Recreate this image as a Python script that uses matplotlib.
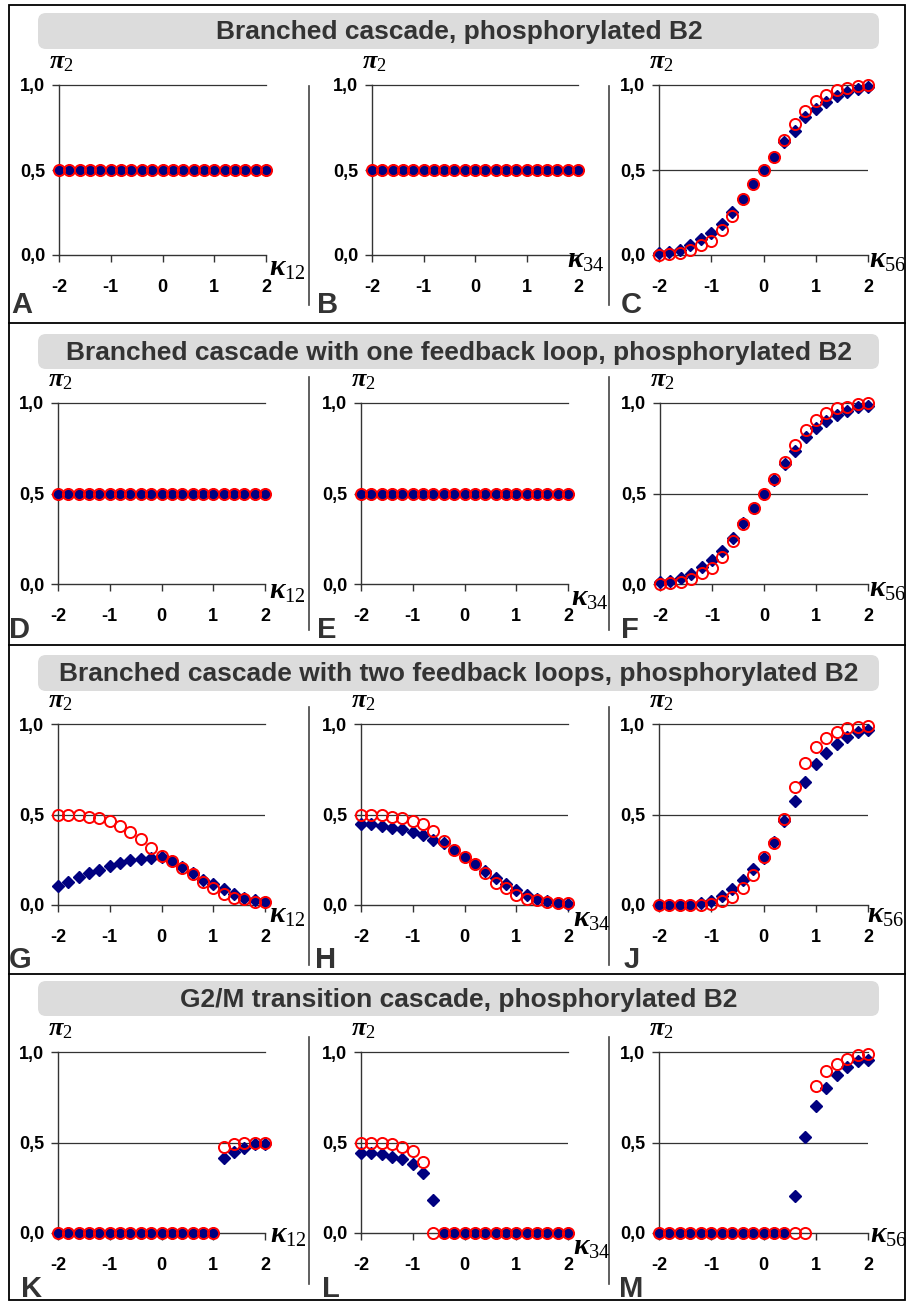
import matplotlib.pyplot as plt
from matplotlib.patches import FancyBboxPatch, Rectangle
from matplotlib.lines import Line2D
from matplotlib.transforms import IdentityTransform

plt.rcParams['font.family'] = ['Liberation Sans', 'DejaVu Sans']
plt.rcParams['mathtext.fontset'] = 'custom'
plt.rcParams['mathtext.it'] = 'Liberation Serif:italic:bold'
plt.rcParams['mathtext.rm'] = 'Liberation Serif'
plt.rcParams['mathtext.bf'] = 'Liberation Serif:bold'

# data
kappa = [-2.0, -1.8, -1.6, -1.4, -1.2, -1.0, -0.8, -0.6, -0.4, -0.2, 0.0,
         0.2, 0.4, 0.6, 0.8, 1.0, 1.2, 1.4, 1.6, 1.8, 2.0]

titles = ['Branched cascade, phosphorylated B2',
          'Branched cascade with one feedback loop, phosphorylated B2',
          'Branched cascade with two feedback loops, phosphorylated B2',
          'G2/M transition cascade, phosphorylated B2']
letters = [['A', 'B', 'C'], ['D', 'E', 'F'], ['G', 'H', 'J'], ['K', 'L', 'M']]
xlabels = ['12', '34', '56']
yticklabels = ['0,0', '0,5', '1,0']
xticklabels = ['-2', '-1', '0', '1', '2']

flat_dia = [0.5, 0.5, 0.5, 0.5, 0.5, 0.5, 0.5, 0.5, 0.5, 0.5, 0.5,
            0.5, 0.5, 0.5, 0.5, 0.5, 0.5, 0.5, 0.5, 0.5, 0.5]
flat_circ = [0.5, 0.5, 0.5, 0.5, 0.5, 0.5, 0.5, 0.5, 0.5, 0.5, 0.5,
             0.5, 0.5, 0.5, 0.5, 0.5, 0.5, 0.5, 0.5, 0.5, 0.5]

c_dia = [0.01, 0.016, 0.032, 0.056, 0.095, 0.13, 0.18, 0.255, 0.33, 0.42, 0.5,
         0.575, 0.665, 0.73, 0.81, 0.86, 0.9, 0.934, 0.956, 0.976, 0.986]
c_circ = [0.0, 0.005, 0.012, 0.03, 0.06, 0.085, 0.145, 0.23, 0.33, 0.42, 0.5,
          0.575, 0.675, 0.77, 0.85, 0.905, 0.944, 0.97, 0.98, 0.994, 1.0]

f_dia = [0.01, 0.018, 0.033, 0.057, 0.095, 0.13, 0.18, 0.255, 0.335, 0.42, 0.5,
         0.575, 0.665, 0.735, 0.81, 0.86, 0.9, 0.934, 0.956, 0.976, 0.986]
f_circ = [0.0, 0.006, 0.013, 0.03, 0.06, 0.088, 0.15, 0.235, 0.33, 0.42, 0.5,
          0.578, 0.675, 0.77, 0.85, 0.905, 0.944, 0.97, 0.98, 0.994, 1.0]

g_dia = [0.105, 0.129, 0.153, 0.175, 0.193, 0.215, 0.234, 0.249, 0.254, 0.258, 0.263,
         0.243, 0.212, 0.175, 0.138, 0.114, 0.087, 0.059, 0.041, 0.028, 0.018]
g_circ = [0.5, 0.5, 0.5, 0.488, 0.479, 0.464, 0.436, 0.405, 0.365, 0.313, 0.271,
          0.243, 0.206, 0.169, 0.125, 0.092, 0.059, 0.04, 0.031, 0.017, 0.018]

h_dia = [0.446, 0.446, 0.438, 0.427, 0.42, 0.405, 0.387, 0.359, 0.341, 0.304, 0.263,
         0.225, 0.19, 0.147, 0.114, 0.083, 0.055, 0.031, 0.022, 0.009, 0.006]
h_circ = [0.5, 0.5, 0.496, 0.488, 0.479, 0.464, 0.448, 0.411, 0.354, 0.304, 0.267,
          0.227, 0.175, 0.123, 0.092, 0.055, 0.033, 0.028, 0.018, 0.013, 0.009]

j_dia = [0.0, 0.0, 0.0, 0.002, 0.01, 0.024, 0.05, 0.09, 0.138, 0.197, 0.258,
         0.346, 0.466, 0.573, 0.681, 0.779, 0.84, 0.89, 0.926, 0.954, 0.969]
j_circ = [0.0, 0.0, 0.0, 0.0, 0.002, 0.006, 0.02, 0.042, 0.092, 0.168, 0.263,
          0.34, 0.475, 0.65, 0.783, 0.871, 0.923, 0.954, 0.976, 0.982, 0.991]

k_dia = [0.0, 0.0, 0.0, 0.0, 0.0, 0.0, 0.0, 0.0, 0.0, 0.0, 0.0,
         0.0, 0.0, 0.0, 0.0, 0.0, 0.417, 0.45, 0.468, 0.49, 0.49]
k_circ = [0.0, 0.0, 0.0, 0.0, 0.0, 0.0, 0.0, 0.0, 0.0, 0.0, 0.0,
          0.0, 0.0, 0.0, 0.0, 0.0, 0.473, 0.492, 0.5, 0.5, 0.5]

l_dia = [0.444, 0.444, 0.437, 0.422, 0.407, 0.38, 0.33, 0.183, 0.0, 0.0, 0.0,
         0.0, 0.0, 0.0, 0.0, 0.0, 0.0, 0.0, 0.0, 0.0, 0.0]
l_circ = [0.5, 0.5, 0.5, 0.492, 0.477, 0.453, 0.394, 0.0, 0.0, 0.0, 0.0,
          0.0, 0.0, 0.0, 0.0, 0.0, 0.0, 0.0, 0.0, 0.0, 0.0]

m_dia = [0.0, 0.0, 0.0, 0.0, 0.0, 0.0, 0.0, 0.0, 0.0, 0.0, 0.0,
         0.0, 0.0, 0.204, 0.533, 0.7, 0.8, 0.873, 0.915, 0.949, 0.955]
m_circ = [0.0, 0.0, 0.0, 0.0, 0.0, 0.0, 0.0, 0.0, 0.0, 0.0, 0.0,
          0.0, 0.0, 0.0, 0.0, 0.813, 0.895, 0.936, 0.964, 0.982, 0.987]

series = [[(flat_dia, flat_circ), (flat_dia, flat_circ), (c_dia, c_circ)],
          [(flat_dia, flat_circ), (flat_dia, flat_circ), (f_dia, f_circ)],
          [(g_dia, g_circ), (h_dia, h_circ), (j_dia, j_circ)],
          [(k_dia, k_circ), (l_dia, l_circ), (m_dia, m_circ)]]

# layout in pixels (from top-left)
W, H = 906, 1302
fig = plt.figure(figsize=(W / 100, H / 100), dpi=100)


def fx(x):
    return x / W


def fy(y):
    return 1 - y / H


title_boxes = [(13, 49), (334, 369), (655, 691), (981, 1016)]
axes_y = [(85, 255), (403, 584), (724, 905), (1052, 1233)]
axes_x = [[(59, 266), (372, 578), (659, 868)],
          [(58, 265), (361, 568), (660, 868)],
          [(58, 265), (361, 568), (659, 868)],
          [(58, 265), (361, 568), (659, 868)]]
kappa_pos = [[(269, 268), (567, 260), (869, 260)],
             [(269, 591), (571, 598), (869, 589)],
             [(269, 915), (573, 919), (867, 915)],
             [(270, 1235), (573, 1247), (870, 1235)]]
letter_x = [[11, 317, 621], [9, 317, 621], [9, 315, 624], [21, 322, 619]]
letter_y = [313, 638, 968, 1297]
sep_v = [(86, 305), (377, 630), (707, 965), (1037, 1284)]
sep_h = [323, 645, 974]

# outer frame and separators
fig.add_artist(Rectangle((fx(9), fy(1300)), fx(905) - fx(9), fy(5) - fy(1300),
                         transform=fig.transFigure, fill=False, ec='black', lw=1.3))
for y in sep_h:
    fig.add_artist(Line2D([fx(9), fx(905)], [fy(y), fy(y)], transform=fig.transFigure,
                          color='black', lw=1.3))

for r in range(4):
    # title box
    t0, t1 = title_boxes[r]
    box = FancyBboxPatch((38, H - t1), 841, t1 - t0,
                         boxstyle='round,pad=0,rounding_size=8',
                         transform=IdentityTransform(), fc='#dcdcdc', ec='none')
    fig.add_artist(box)
    fig.text(fx(459), fy((t0 + t1) / 2 + 1), titles[r], ha='center', va='center',
             fontsize=19, fontweight='bold', color='#333333')

    for xv in (309, 609):
        s0, s1 = sep_v[r]
        fig.add_artist(Line2D([fx(xv), fx(xv)], [fy(s0), fy(s1)], transform=fig.transFigure,
                              color='#444444', lw=1.2))

    ytop, ybot = axes_y[r]
    for c in range(3):
        x0, x1 = axes_x[r][c]
        ax = fig.add_axes([fx(x0), fy(ybot), fx(x1) - fx(x0), fy(ytop) - fy(ybot)])
        ax.set_xlim(-2, 2)
        ax.set_ylim(0, 1)
        ax.patch.set_visible(False)
        for sp in ['top', 'right']:
            ax.spines[sp].set_visible(False)
        for sp in ['left', 'bottom']:
            ax.spines[sp].set_color('#333333')
            ax.spines[sp].set_linewidth(1.0)
        ax.axhline(0.5, color='#333333', lw=0.9, zorder=1)
        ax.axhline(1.0, color='#333333', lw=0.9, zorder=1, clip_on=False)
        ax.set_yticks([0, 0.5, 1.0])
        ax.set_yticklabels(yticklabels)
        ax.set_xticks([-2, -1, 0, 1, 2])
        ax.set_xticklabels(xticklabels)
        ax.tick_params(axis='x', direction='out', length=5, width=1, pad=12,
                       labelsize=13, color='#333333')
        ax.tick_params(axis='y', direction='out', length=5, width=1, pad=5,
                       labelsize=13, color='#333333')
        for lbl in ax.get_xticklabels() + ax.get_yticklabels():
            lbl.set_fontweight('bold')

        dia, circ = series[r][c]
        ax.plot(kappa, dia, ls='none', marker='D', ms=6.5, color='#000080',
                clip_on=False, zorder=3)
        ax.plot(kappa, circ, ls='none', marker='o', ms=8, mfc='none', mec='red',
                mew=1.4, clip_on=False, zorder=4)

        # axis labels
        fig.text(fx(x0 + 2), fy(ytop - 11), r'$\pi_2$', ha='center', va='bottom',
                 fontsize=19)
        kx, ky = kappa_pos[r][c]
        fig.text(fx(kx), fy(ky), r'$\kappa_{' + xlabels[c] + '}$', ha='left',
                 va='center', fontsize=21)
        fig.text(fx(letter_x[r][c]), fy(letter_y[r]), letters[r][c], ha='left',
                 va='baseline', fontsize=21, fontweight='bold', color='#333333')

fig.savefig('out.png', dpi=100)
